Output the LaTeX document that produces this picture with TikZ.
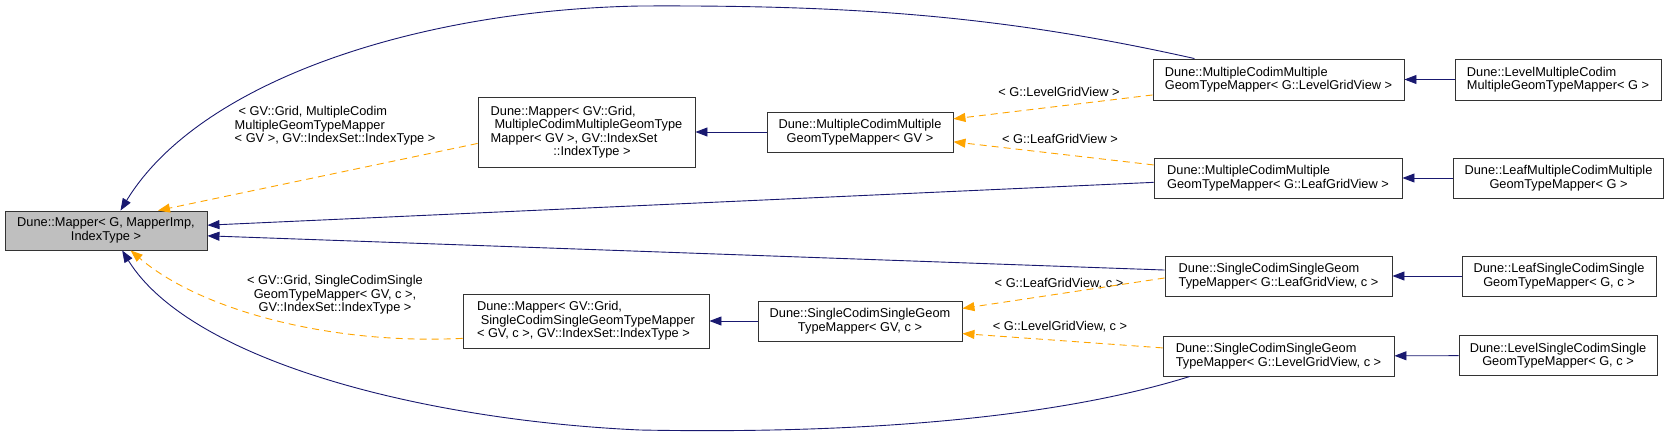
\documentclass[tikz,border=0pt]{standalone}
\usepackage{fontspec}
\setmainfont{Liberation Sans}
\usetikzlibrary{arrows.meta}

\definecolor{edgeblue}{HTML}{191970}
\definecolor{edgeorange}{HTML}{FFA500}
\definecolor{basegray}{HTML}{BFBFBF}

\begin{document}
\begin{tikzpicture}[x=1pt, y=-1pt,
  font=\fontsize{12.8}{13.5}\selectfont,
  cls/.style={draw=black!80, line width=0.9pt, inner sep=0pt, minimum height=40pt, align=left},
  inh/.style={edgeblue, line width=0.9pt, -{Triangle[length=12pt,width=9pt]}},
  tpl/.style={edgeorange, line width=0.9pt, dash pattern=on 7pt off 5pt, -{Triangle[length=12pt,width=9pt]}},
  lbl/.style={inner sep=0pt, align=center}
]
\useasboundingbox (0,0) rectangle (1669,436);

% ── Base class ──
\node[cls, fill=basegray, minimum width=202pt, minimum height=39pt, align=center] (mapper) at (106,230.5) {Dune::Mapper< G, MapperImp,\\IndexType >};

% ── Mapper instances ──
\node[cls, minimum width=217pt, minimum height=70pt] (mmap) at (586.5,132) {Dune::Mapper< GV::Grid,\\\hspace*{0.3em}MultipleCodimMultipleGeomType\\Mapper< GV >, GV::IndexSet\\\hspace*{4.9em}::IndexType >};
\node[cls, minimum width=246pt, minimum height=54pt] (smap) at (586,321) {Dune::Mapper< GV::Grid,\\\hspace*{0.3em}SingleCodimSingleGeomTypeMapper\\< GV, c >, GV::IndexSet::IndexType >};

% ── Mapper templates ──
\node[cls, minimum width=186pt, align=center] (mcmg) at (860,132) {Dune::MultipleCodimMultiple\\GeomTypeMapper< GV >};
\node[cls, minimum width=204pt, align=center] (scsg) at (860,321) {Dune::SingleCodimSingleGeom\\TypeMapper< GV, c >};

% ── Grid view instances ──
\node[cls, minimum width=251pt, minimum height=41pt] (mlevel) at (1278.5,79.5) {Dune::MultipleCodimMultiple\\GeomTypeMapper< G::LevelGridView >};
\node[cls, minimum width=248pt] (mleaf) at (1278,178) {Dune::MultipleCodimMultiple\\GeomTypeMapper< G::LeafGridView >};
\node[cls, minimum width=227pt] (sleaf) at (1278.5,276) {Dune::SingleCodimSingleGeom\\TypeMapper< G::LeafGridView, c >};
\node[cls, minimum width=231pt] (slevel) at (1278.5,356) {Dune::SingleCodimSingleGeom\\TypeMapper< G::LevelGridView, c >};

% ── Leaf / level mappers ──
\node[cls, minimum width=206pt, minimum height=41pt] (lvlmcmg) at (1558,79.5) {Dune::LevelMultipleCodim\\MultipleGeomTypeMapper< G >};
\node[cls, minimum width=210pt, align=center] (leafmcmg) at (1558.5,178) {Dune::LeafMultipleCodimMultiple\\GeomTypeMapper< G >};
\node[cls, minimum width=194pt, align=center] (leafscsg) at (1559,276) {Dune::LeafSingleCodimSingle\\GeomTypeMapper< G, c >};
\node[cls, minimum width=198pt, align=center] (lvlscsg) at (1558,355.5) {Dune::LevelSingleCodimSingle\\GeomTypeMapper< G, c >};

% ── Template argument labels ──
\node[lbl, align=left] (lmmap) at (335,126) {\hspace*{0.3em}< GV::Grid, MultipleCodim\\MultipleGeomTypeMapper\\< GV >, GV::IndexSet::IndexType >};
\node[lbl] (lsmap) at (335,295) {< GV::Grid, SingleCodimSingle\\GeomTypeMapper< GV, c >,\\GV::IndexSet::IndexType >};
\node[lbl] (llevel) at (1059,92) {< G::LevelGridView >};
\node[lbl] (lleaf) at (1060,139) {< G::LeafGridView >};
\node[lbl] (lleafc) at (1059,284) {< G::LeafGridView, c >};
\node[lbl] (llevelc) at (1060,327) {< G::LevelGridView, c >};

% ── Inheritance ──
\draw[inh] (mcmg) -- (mmap);
\draw[inh] (scsg) -- (smap);
\draw[inh] (lvlmcmg) -- (mlevel);
\draw[inh] (leafmcmg) -- (mleaf);
\draw[inh] (leafscsg) -- (sleaf);
\draw[inh] (lvlscsg) -- (slevel);
\draw[inh] (mleaf.182) -- (mapper.3);
\draw[inh] (sleaf.177) -- (mapper.357);
\draw[inh] (mlevel.166) .. controls (1000,15) and (850,5) .. (640,6)
  .. controls (420,10) and (200,80) .. (mapper.54);
\draw[inh] (slevel.193) .. controls (1050,420) and (850,434) .. (640,430)
  .. controls (420,420) and (190,360) .. (mapper.309);

% ── Template instantiation ──
\draw[tpl] (mlevel.187) -- (mcmg.8);
\draw[tpl] (mleaf.174) -- (mcmg.354);
\draw[tpl] (sleaf.181) -- (scsg.7);
\draw[tpl] (slevel.176) -- (scsg.353);
\draw[tpl] (mmap.186) -- (mapper.21);
\draw[tpl] (smap.188) .. controls (330,345) and (200,310) .. (mapper.321);

\end{tikzpicture}
\end{document}
